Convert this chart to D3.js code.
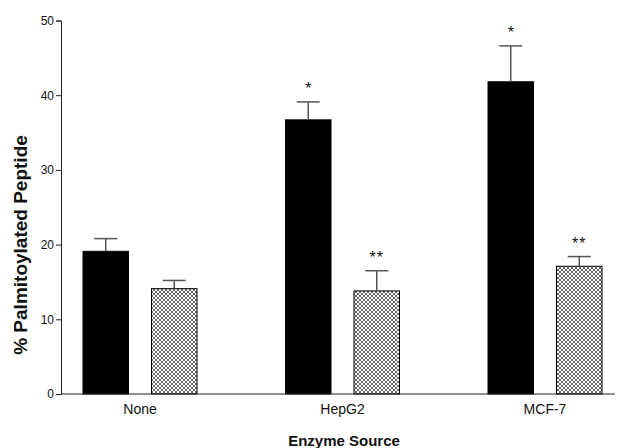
<!DOCTYPE html>
<html>
<head>
<meta charset="utf-8">
<script src="https://cdn.jsdelivr.net/npm/d3@7"></script>
<style>
  html, body { margin: 0; padding: 0; background: #fff; }
  svg { display: block; font-family: "Liberation Sans", Arial, sans-serif; }
</style>
</head>
<body>
<svg id="chart" width="623" height="448"></svg>
<script>
// ---- data ----
const categories = ["None", "HepG2", "MCF-7"];
const seriesNames = ["control", "treated"];
const controlValues = [19.1, 36.7, 41.8];
const controlErrors = [1.7, 2.4, 4.8];
const treatedValues = [14.1, 13.8, 17.1];
const treatedErrors = [1.1, 2.7, 1.3];
const controlMarks = ["", "*", "*"];
const treatedMarks = ["", "**", "**"];
const yTicks = [0, 10, 20, 30, 40, 50];
const yTitle = "% Palmitoylated Peptide";
const xTitle = "Enzyme Source";

const rows = [];
categories.forEach((c, i) => {
  rows.push({cat: c, s: "control", v: controlValues[i], e: controlErrors[i], m: controlMarks[i]});
  rows.push({cat: c, s: "treated", v: treatedValues[i], e: treatedErrors[i], m: treatedMarks[i]});
});

const svg = d3.select("#chart");

// hatch pattern
const defs = svg.append("defs");
const pat = defs.append("pattern")
  .attr("id", "hatch").attr("patternUnits", "userSpaceOnUse")
  .attr("width", 4).attr("height", 4);
pat.append("rect").attr("width", 4).attr("height", 4).attr("fill", "#fff");
pat.append("path").attr("d", "M0,0 L4,4 M4,0 L0,4")
  .attr("stroke", "#222").attr("stroke-width", 0.7).attr("fill", "none");

// scales
const y = d3.scaleLinear().domain([0, 50]).range([394, 20.5]);
const x0 = d3.scaleBand().domain(categories).range([38.75, 646.25]).paddingInner(0).paddingOuter(0);
const x1 = d3.scaleBand().domain(seriesNames).range([-57, 57]).paddingInner(0.336).paddingOuter(0);

const axisX = 61;
const axisXEnd = 615;

// y axis
const yAxis = svg.append("g")
  .attr("transform", `translate(${axisX},0)`)
  .call(d3.axisLeft(y).tickValues(yTicks).tickSize(5).tickPadding(2).tickFormat(d3.format("d")));
yAxis.select(".domain").attr("stroke", "#222");
yAxis.selectAll(".tick line").attr("stroke", "#222");
yAxis.selectAll(".tick text").attr("font-size", "12px").attr("fill", "#111")
  .attr("font-family", "Liberation Sans, Arial, sans-serif");

// bars
const g = svg.append("g");
const barX = d => x0(d.cat) + x0.bandwidth() / 2 + x1(d.s);
g.selectAll("rect.bar").data(rows).join("rect")
  .attr("class", "bar")
  .attr("x", barX)
  .attr("width", x1.bandwidth())
  .attr("y", d => y(d.v))
  .attr("height", d => y(0) - y(d.v))
  .attr("fill", d => d.s === "control" ? "#000" : "url(#hatch)")
  .attr("stroke", "#000")
  .attr("stroke-width", 1);

// error bars (upper only)
const capW = 23;
const errG = g.selectAll("g.err").data(rows).join("g").attr("class", "err");
errG.append("line")
  .attr("x1", d => barX(d) + x1.bandwidth() / 2)
  .attr("x2", d => barX(d) + x1.bandwidth() / 2)
  .attr("y1", d => y(d.v))
  .attr("y2", d => y(d.v + d.e))
  .attr("stroke", "#555").attr("stroke-width", 1.5);
errG.append("line")
  .attr("x1", d => barX(d) + x1.bandwidth() / 2 - capW / 2)
  .attr("x2", d => barX(d) + x1.bandwidth() / 2 + capW / 2)
  .attr("y1", d => y(d.v + d.e))
  .attr("y2", d => y(d.v + d.e))
  .attr("stroke", "#555").attr("stroke-width", 1.5);

// significance marks
g.selectAll("text.mark").data(rows.filter(d => d.m)).join("text")
  .attr("class", "mark")
  .attr("x", d => barX(d) + x1.bandwidth() / 2)
  .attr("y", d => y(d.v + d.e) - 7.5)
  .attr("text-anchor", "middle")
  .attr("font-size", "16px")
  .attr("letter-spacing", d => d.m.length > 1 ? "1px" : "0px")
  .attr("fill", "#111")
  .text(d => d.m);

// x axis
svg.append("line")
  .attr("x1", axisX).attr("x2", axisXEnd)
  .attr("y1", y(0)).attr("y2", y(0))
  .attr("stroke", "#222").attr("stroke-width", 1);
const xAxis = svg.append("g")
  .attr("transform", `translate(0,${y(0)})`)
  .call(d3.axisBottom(x0).tickSize(0).tickPadding(10));
xAxis.select(".domain").remove();
xAxis.selectAll(".tick text").attr("font-size", "14px").attr("fill", "#111")
  .attr("font-family", "Liberation Sans, Arial, sans-serif");

// titles
svg.append("text")
  .attr("transform", `translate(27,245) rotate(-90)`)
  .attr("text-anchor", "middle")
  .attr("font-size", "19px").attr("font-weight", "bold").attr("fill", "#111")
  .text(yTitle);
svg.append("text")
  .attr("x", 344).attr("y", 446)
  .attr("text-anchor", "middle")
  .attr("font-size", "15px").attr("font-weight", "bold").attr("fill", "#111")
  .text(xTitle);
</script>
</body>
</html>
